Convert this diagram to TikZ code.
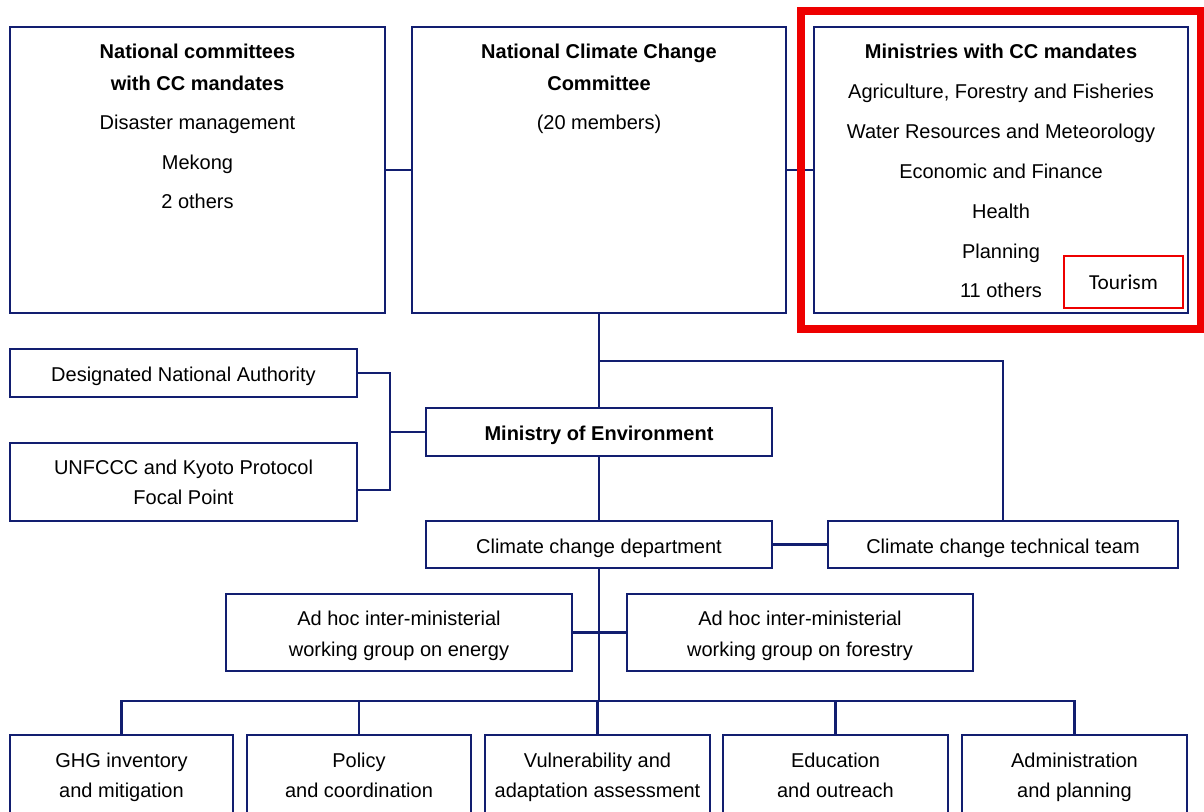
\documentclass[tikz,border=0pt]{standalone}
\usepackage{fontspec}
\setmainfont{Liberation Sans}
\newfontfamily\tourfont{Carlito}
\usetikzlibrary{fit}
\definecolor{navy}{RGB}{18,30,112}
\definecolor{hired}{RGB}{238,0,0}
\begin{document}
\begin{tikzpicture}[x=0.75pt,y=-0.75pt,
  box/.style={draw=navy, line width=1.5pt, inner sep=0pt, fill=white},
  conn/.style={draw=navy, line width=1.6pt},
  txt/.style={font=\fontsize{15}{18}\selectfont, inner sep=0pt, text height=10.7pt, text depth=0pt},
  bold/.style={txt, font=\fontsize{15}{18}\selectfont\bfseries}]
\clip (0,0) rectangle (1204,812);

% top row
\node[box, fit={(10,27)(385,313)}] (ncm) {};
\node[box, fit={(412,27)(786,313)}] (ncc) {};
\node[box, fit={(814,27)(1188,313)}] (min) {};

\node[bold] (ncm1) at (197.5,51) {National committees};
\node[bold] (ncm2) at (197.5,83) {with CC mandates};
\node[txt] (ncm3) at (197.5,122) {Disaster management};
\node[txt] (ncm4) at (197.5,162) {Mekong};
\node[txt] (ncm5) at (197.5,201) {2 others};

\node[bold] (ncc1) at (599,51) {National Climate Change};
\node[bold] (ncc2) at (599,83) {Committee};
\node[txt] (ncc3) at (599,122) {(20 members)};

\node[bold] (min1) at (1001,51) {Ministries with CC mandates};
\node[txt] (min2) at (1001,91) {Agriculture, Forestry and Fisheries};
\node[txt] (min3) at (1001,131) {Water Resources and Meteorology};
\node[txt] (min4) at (1001,171) {Economic and Finance};
\node[txt] (min5) at (1001,211) {Health};
\node[txt] (min6) at (1001,251) {Planning};
\node[txt] (min7) at (1001,290) {11 others};

\node[draw=hired, line width=1.5pt, inner sep=0pt, fit={(1064,256)(1183,308)}] (tour) {};
\node[font=\tourfont\fontsize{16}{18}\selectfont, inner sep=0pt] (tourt) at (1123.5,282) {Tourism};

% middle section
\node[box, fit={(10,349)(357,397)}] (dna) {};
\node[box, fit={(10,443)(357,521)}] (unf) {};
\node[box, fit={(426,408)(772,456)}] (moe) {};
\node[box, fit={(426,521)(772,568)}] (ccd) {};
\node[box, fit={(828,521)(1178,568)}] (tt) {};

\node[txt] (dnat) at (183.5,374) {Designated National Authority};
\node[txt] (unf1) at (183.5,467) {UNFCCC and Kyoto Protocol};
\node[txt] (unf2) at (183.5,497) {Focal Point};
\node[bold] (moet) at (599,433) {Ministry of Environment};
\node[txt] (ccdt) at (599,546) {Climate change department};
\node[txt] (ttt) at (1003,546) {Climate change technical team};

% ad hoc working groups
\node[box, fit={(226,594)(572,671)}] (ahe) {};
\node[box, fit={(627,594)(973,671)}] (ahf) {};
\node[txt] (ahe1) at (399,618) {Ad hoc inter-ministerial};
\node[txt] (ahe2) at (399,649) {working group on energy};
\node[txt] (ahf1) at (800,618) {Ad hoc inter-ministerial};
\node[txt] (ahf2) at (800,649) {working group on forestry};

% bottom units
\node[box, fit={(10,735)(233,840)}] (b1) {};
\node[box, fit={(247,735)(471,840)}] (b2) {};
\node[box, fit={(485,735)(710,840)}] (b3) {};
\node[box, fit={(723,735)(948,840)}] (b4) {};
\node[box, fit={(962,735)(1187,840)}] (b5) {};

\node[txt] (b1a) at (121.5,760) {GHG inventory};
\node[txt] (b1b) at (121.5,790) {and mitigation};
\node[txt] (b2a) at (359,760) {Policy};
\node[txt] (b2b) at (359,790) {and coordination};
\node[txt] (b3a) at (597.5,760) {Vulnerability and};
\node[txt] (b3b) at (597.5,790) {adaptation assessment};
\node[txt] (b4a) at (835.5,760) {Education};
\node[txt] (b4b) at (835.5,790) {and outreach};
\node[txt] (b5a) at (1074.5,760) {Administration};
\node[txt] (b5b) at (1074.5,790) {and planning};

% junction points
\coordinate (jt) at (599,361);
\coordinate (jl) at (390,432);
\coordinate (ju) at (0,490);
\coordinate (jb) at (599,701);

% connectors
\draw[conn] (ncm.east) -- (ncc.west);
\draw[conn] (ncc.east) -- (min.west);
\draw[conn] (ncc.south) -- (moe.north);
\draw[conn] (jt) -| (tt.north);
\draw[conn] (dna.east) -| (jl) |- (unf.east |- ju);
\draw[conn] (jl) -- (moe.west);
\draw[conn] (moe.south) -- (ccd.north);
\draw[conn] (ccd.east) -- (tt.west);
\draw[conn] (ccd.south) -- (jb);
\draw[conn] (ahe.east) -- (ahf.west);
\draw[conn] (jb) -| (b1.north);
\draw[conn] (jb) -| (b2.north);
\draw[conn] (jb) -| (b3.north);
\draw[conn] (jb) -| (b4.north);
\draw[conn] (jb) -| (b5.north);

% highlight frame
\node[draw=hired, line width=5.3pt, inner sep=0pt, fit={(801,11)(1201,329)}] (hl) {};
\end{tikzpicture}
\end{document}
